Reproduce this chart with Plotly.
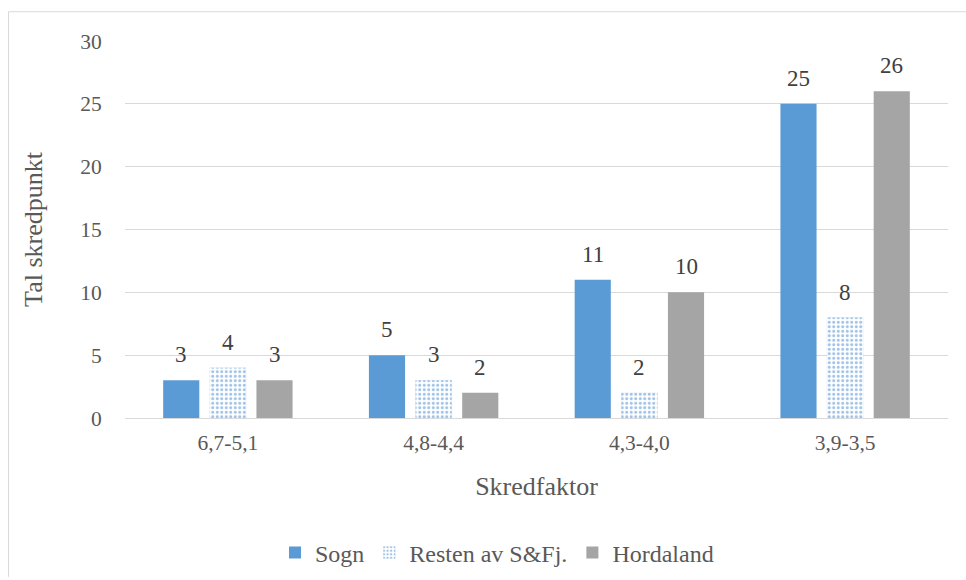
import plotly.graph_objects as go

categories = ["6,7-5,1", "4,8-4,4", "4,3-4,0", "3,9-3,5"]
sogn = [3, 5, 11, 25]
resten = [4, 3, 2, 8]
hordaland = [3, 2, 10, 26]
y_ticks = [0, 5, 10, 15, 20, 25, 30]

FONT = "Liberation Serif, Times New Roman, serif"
TXT = "#595959"
LBL = "#404040"

S = 588 / 580  # vertical page scale of the capture
W, H = 966, 588
L, R = 125, 18
T = 40 * S
B = H - 420 * S
pw, ph = W - L - R, H - T - B

def px(x):
    return (x - L) / pw

def py(y):
    return (H - B - y * S) / ph

BARGAP = 0.32
BGG = 0.225
fig = go.Figure()
fig.add_trace(go.Bar(
    name="Sogn", x=categories, y=sogn,
    marker=dict(color="#5B9BD5", line=dict(width=0)),
))
fig.add_trace(go.Bar(
    name="Resten av S&Fj.", x=categories, y=resten,
    marker=dict(color="white",
                line=dict(color="rgba(91,155,213,0.2)", width=0.5),
                pattern=dict(shape=".", fgcolor="#3F85CF", bgcolor="white",
                             size=4.5, solidity=0.35, fillmode="overlay")),
))
fig.add_trace(go.Bar(
    name="Hordaland", x=categories, y=hordaland,
    marker=dict(color="#A5A5A5", line=dict(width=0)),
))

# value labels above bars
slot = pw / len(categories)
step = (1 - BARGAP) * slot / 3
annotations = []
for k, series in enumerate([sogn, resten, hordaland]):
    for cat, v in zip(categories, series):
        annotations.append(dict(
            x=cat, y=v, xref="x", yref="y", text=str(v), showarrow=False,
            xshift=(k - 1) * step, yshift=25 * S, yanchor="middle",
            font=dict(family=FONT, size=23, color=LBL),
        ))

fig.update_layout(
    width=W, height=H,
    margin=dict(l=L, r=R, t=T, b=B, pad=0),
    paper_bgcolor="white", plot_bgcolor="white",
    barmode="group", bargap=BARGAP, bargroupgap=BGG,
    font=dict(family=FONT, size=21.5, color=TXT),
    showlegend=True,
    legend=dict(orientation="h", x=px(497), xanchor="center", y=py(556), yanchor="middle",
                font=dict(family=FONT, size=24, color=TXT), itemwidth=30,
                traceorder="normal"),
    xaxis=dict(
        title=dict(text="Skredfaktor", font=dict(family=FONT, size=26, color=TXT), standoff=23),
        tickfont=dict(family=FONT, size=21.5, color=TXT),
        showgrid=False, showline=True, linecolor="#D9D9D9", linewidth=1,
        ticks="outside", ticklen=5, tickcolor="rgba(0,0,0,0)",
    ),
    yaxis=dict(
        title=dict(text="Tal skredpunkt", font=dict(family=FONT, size=26, color=TXT), standoff=30),
        tickfont=dict(family=FONT, size=21.5, color=TXT),
        range=[0, 30], tickvals=y_ticks, showgrid=True, gridcolor="#D9D9D9",
        gridwidth=1, zeroline=False, showline=False,
        ticks="outside", ticklen=18, tickcolor="rgba(0,0,0,0)",
    ),
    annotations=annotations,
    shapes=[
        dict(type="line", xref="paper", yref="paper",
             x0=px(8.5), x1=px(966), y0=py(10.5), y1=py(10.5),
             line=dict(color="#D9D9D9", width=1), layer="below"),
        dict(type="line", xref="paper", yref="paper",
             x0=px(8.5), x1=px(8.5), y0=py(10.5), y1=py(580),
             line=dict(color="#D9D9D9", width=1), layer="below"),
    ],
)

fig.write_html("out.html", config={"displayModeBar": False},
               post_script="document.body.style.margin='0';")
